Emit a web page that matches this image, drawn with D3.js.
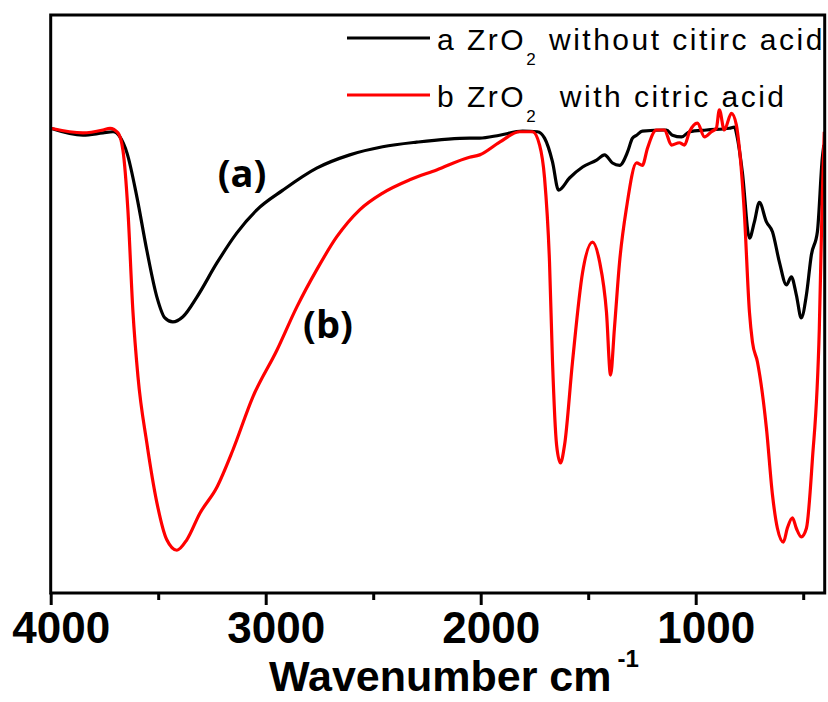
<!DOCTYPE html>
<html>
<head>
<meta charset="utf-8">
<script src="https://cdn.jsdelivr.net/npm/d3@7/dist/d3.min.js"></script>
<style>
  html, body { margin: 0; padding: 0; background: #fff; }
  svg { display: block; }
</style>
</head>
<body>
<script>
// spectrum a: ZrO2 without citric acid (wavenumber, transmittance a.u.)
const waveA = [4000, 3850, 3757, 3710, 3678, 3645, 3599, 3553, 3506, 3469, 3432, 3385, 3320, 3227, 3134, 3041, 2920, 2763, 2609, 2456, 2298, 2052, 2005, 1912, 1805, 1736, 1703, 1666, 1638, 1587, 1526, 1461, 1424, 1387, 1354, 1317, 1294, 1275, 1248, 1136, 1108, 1066, 1029, 950, 843, 820, 806, 783, 750, 727, 704, 671, 643, 611, 578, 555, 532, 509, 485, 462, 434, 411, 404];
const transA = [80.4, 79.2, 79.6, 79.8, 78.9, 76.1, 68.5, 59.3, 51.2, 47.6, 46.9, 47.8, 51.2, 57.1, 62.3, 66.3, 69.7, 73.5, 75.8, 77.2, 78.0, 78.7, 78.7, 79.2, 79.9, 79.8, 78.7, 74.6, 69.7, 71.8, 73.7, 74.9, 75.8, 74.4, 74.0, 76.3, 78.7, 79.2, 79.9, 80.1, 79.2, 78.9, 79.8, 80.1, 80.4, 80.6, 78.7, 72.8, 61.4, 64.2, 67.6, 64.2, 62.5, 57.3, 53.3, 54.7, 51.6, 47.6, 51.6, 58.5, 62.5, 75.3, 77.5];

// spectrum b: ZrO2 with citric acid
const waveB = [4000, 3850, 3757, 3724, 3687, 3664, 3641, 3618, 3594, 3553, 3506, 3460, 3413, 3367, 3306, 3227, 3153, 3060, 2948, 2855, 2763, 2670, 2563, 2456, 2330, 2205, 2052, 2005, 1912, 1819, 1759, 1726, 1703, 1680, 1666, 1647, 1629, 1610, 1573, 1526, 1480, 1447, 1415, 1396, 1378, 1354, 1322, 1275, 1248, 1224, 1183, 1145, 1113, 1076, 1052, 1029, 992, 959, 927, 904, 890, 867, 834, 811, 797, 774, 750, 736, 713, 671, 643, 620, 592, 574, 550, 532, 509, 485, 458, 425, 411, 402];
const transB = [80.4, 79.6, 80.1, 80.4, 79.6, 76.6, 66.3, 49.0, 37.4, 26.0, 15.6, 9.2, 7.4, 9.2, 13.8, 18.3, 24.7, 33.9, 42.0, 49.5, 55.9, 61.6, 66.3, 69.2, 71.5, 73.2, 75.4, 75.8, 78.0, 79.8, 79.8, 77.5, 71.8, 57.3, 40.0, 25.6, 22.5, 25.6, 40.0, 55.5, 60.7, 57.3, 48.6, 37.7, 45.8, 57.3, 66.6, 74.4, 74.0, 77.0, 80.1, 80.1, 77.5, 77.9, 77.5, 79.8, 81.3, 78.9, 79.8, 80.4, 83.6, 80.1, 83.0, 81.0, 77.0, 65.9, 48.6, 43.4, 40.0, 28.5, 17.0, 11.2, 8.8, 11.2, 13.0, 11.2, 9.7, 11.2, 22.7, 45.8, 68.9, 79.8];

const majorTicks = [4000, 3000, 2000, 1000];
const minorTicks = [3500, 2500, 1500, 500];
const seriesNames = ["a", "b"];
const seriesColors = ["#000000", "#ff0000"];

const width = 828;
const height = 702;
const padLeft = 50.7, padRight = 824.7, padTop = 15, padBottom = 593;

const canvas = d3.select("body")
    .append("svg")
    .attr("width", width)
    .attr("height", height)
    .style("font-family", "'Liberation Sans', Arial, sans-serif");

const xScale = d3.scaleLinear()
    .domain([4000, 400])
    .range([padLeft, padRight]);

const yScale = d3.scaleLinear()
    .domain([0, 100])
    .range([padBottom, padTop]);

canvas.append("defs").append("clipPath")
    .attr("id", "plot-clip")
    .append("rect")
    .attr("x", padLeft)
    .attr("y", padTop)
    .attr("width", padRight - padLeft)
    .attr("height", padBottom - padTop);

const line = d3.line()
    .x(d => xScale(d[0]))
    .y(d => yScale(d[1]))
    .curve(d3.curveMonotoneX);

const specA = waveA.map((w, i) => [w, transA[i]]);
const specB = waveB.map((w, i) => [w, transB[i]]);

canvas.append("g")
    .attr("clip-path", "url(#plot-clip)")
    .selectAll("path")
    .data([specA, specB])
    .enter()
    .append("path")
    .attr("d", d => line(d))
    .attr("fill", "none")
    .attr("stroke", (d, i) => seriesColors[i])
    .attr("stroke-width", 3.2)
    .attr("stroke-linejoin", "round");

// frame
canvas.append("rect")
    .attr("x", padLeft)
    .attr("y", padTop)
    .attr("width", padRight - padLeft)
    .attr("height", padBottom - padTop)
    .attr("fill", "none")
    .attr("stroke", "#000")
    .attr("stroke-width", 3);

const xAxis = d3.axisBottom(xScale)
    .tickValues(majorTicks)
    .tickSize(12)
    .tickFormat(d3.format("d"));

const gx = canvas.append("g")
    .attr("id", "x-axis")
    .attr("transform", "translate(0," + padBottom + ")")
    .call(xAxis);
gx.select(".domain").remove();
gx.selectAll("line").attr("stroke-width", 3);
gx.selectAll("text")
    .attr("y", 19)
    .attr("dy", "0.71em")
    .attr("dx", 10)
    .style("font-size", "44px")
    .style("font-weight", "bold")
    .style("font-family", "'Liberation Sans', Arial, sans-serif")
    .attr("fill", "#000");

const xMinor = d3.axisBottom(xScale)
    .tickValues(minorTicks)
    .tickSize(7)
    .tickFormat("");

const gm = canvas.append("g")
    .attr("transform", "translate(0," + padBottom + ")")
    .call(xMinor);
gm.select(".domain").remove();
gm.selectAll("line").attr("stroke-width", 3);

// axis title
const title = canvas.append("text")
    .attr("x", 269)
    .attr("y", 691)
    .style("font-size", "43px")
    .style("font-weight", "bold")
    .text("Wavenumber cm");
title.append("tspan")
    .attr("dx", 6)
    .attr("dy", -24)
    .style("font-size", "24px")
    .text("-1");

// curve labels
canvas.append("text")
    .attr("x", 242)
    .attr("y", 187)
    .attr("text-anchor", "middle")
    .style("font-family", "'Open Sans', sans-serif")
    .style("font-size", "38px")
    .style("font-weight", "bold")
    .text("(a)");
canvas.append("text")
    .attr("x", 328)
    .attr("y", 338)
    .attr("text-anchor", "middle")
    .style("font-family", "'Open Sans', sans-serif")
    .style("font-size", "38px")
    .style("font-weight", "bold")
    .text("(b)");

// legend
const legendText = [["a ZrO", "2", " without citirc acid"], ["b ZrO", "2", "  with citric acid"]];
const legendY = [38, 95];

const legend = canvas.append("g");
legend.selectAll("line")
    .data(seriesNames)
    .enter()
    .append("line")
    .attr("x1", 347)
    .attr("x2", 430)
    .attr("y1", (d, i) => legendY[i])
    .attr("y2", (d, i) => legendY[i])
    .attr("stroke", (d, i) => seriesColors[i])
    .attr("stroke-width", 3);

legend.selectAll("text")
    .data(legendText)
    .enter()
    .append("text")
    .attr("x", 437)
    .attr("y", (d, i) => legendY[i] + 12)
    .style("font-size", "30px")
    .style("letter-spacing", "2.5px")
    .style("white-space", "pre")
    .attr("xml:space", "preserve")
    .each(function (d) {
        const t = d3.select(this);
        t.append("tspan").text(d[0]);
        t.append("tspan").attr("dy", 15).style("font-size", "17px").text(d[1]);
        t.append("tspan").attr("dy", -15).text(d[2]);
    });
</script>
</body>
</html>
